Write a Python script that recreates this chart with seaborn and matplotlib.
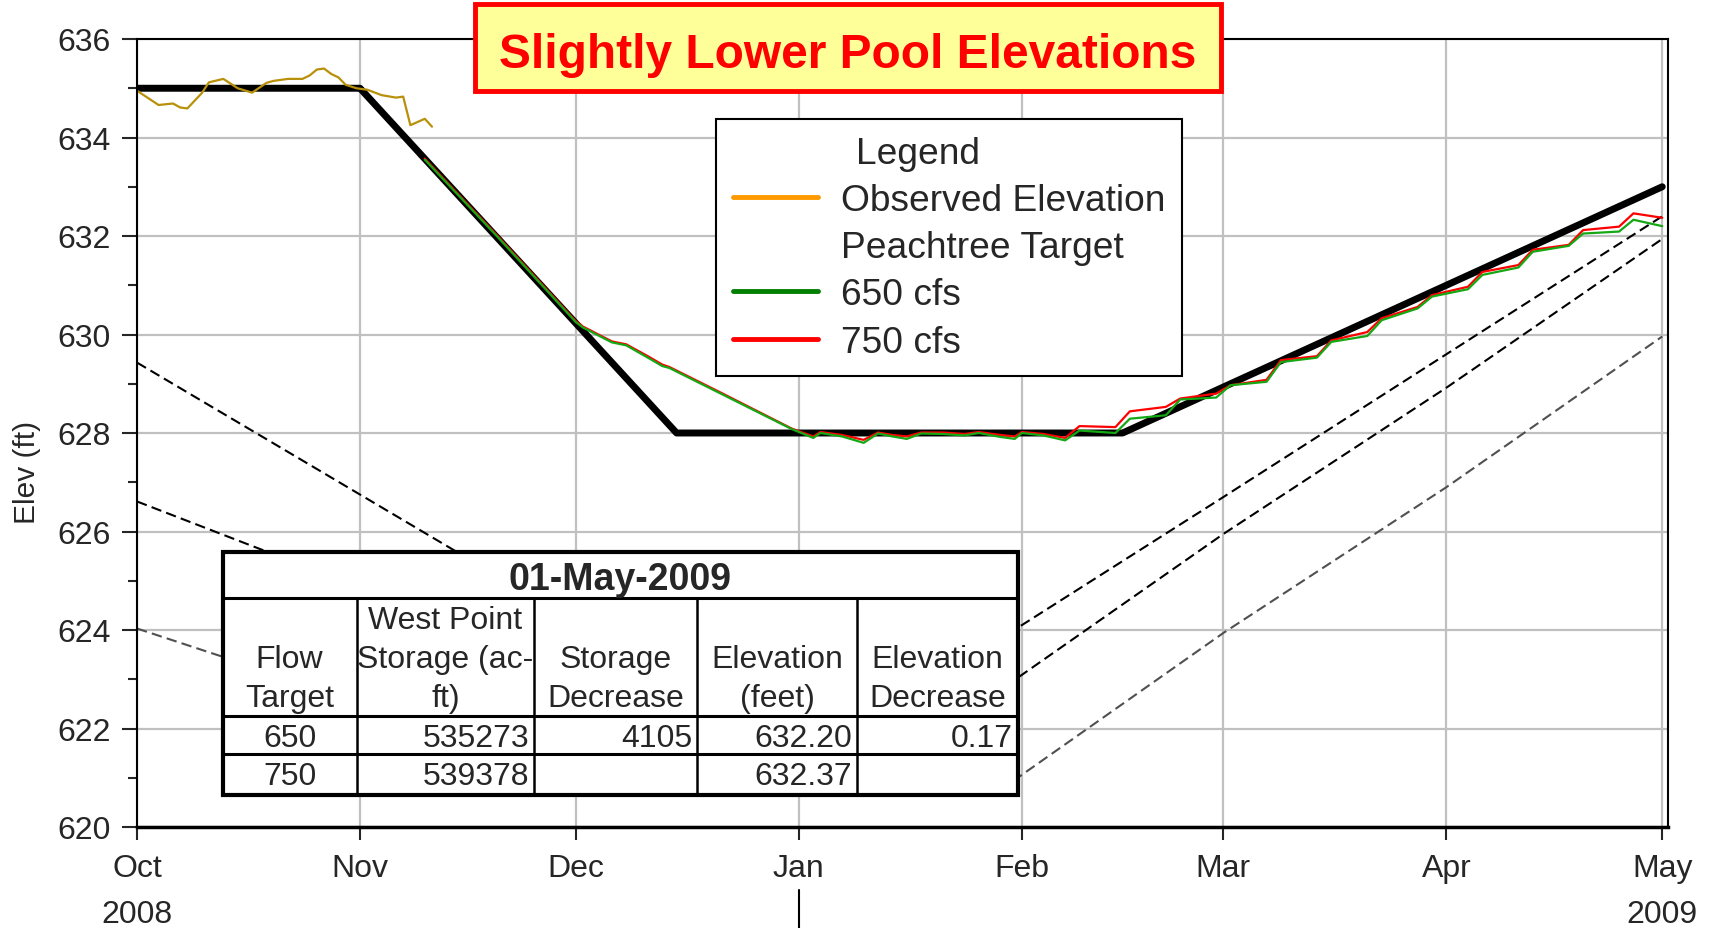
# West Point pool elevations chart
import pandas as pd
import matplotlib
matplotlib.use("Agg")
import matplotlib.pyplot as plt
import matplotlib.dates as mdates
from matplotlib.ticker import MultipleLocator
from matplotlib.lines import Line2D
from matplotlib.patches import Rectangle
import seaborn as sns

sns.set_style("white")
plt.rcParams["font.family"] = ["Liberation Sans", "DejaVu Sans"]

start = pd.Timestamp("2008-10-01")

# guide curve (days after 1-Oct-2008)
guide_days = [0, 31, 75, 137, 212]
guide_elev = [635.0, 635.0, 628.0, 628.0, 633.0]

# observed elevation
obs_days = [0, 3, 5, 6, 7, 9, 10, 12, 14, 16, 18, 19, 21, 23, 24, 25, 26, 27,
            28, 29, 30.5, 32, 34, 36, 37, 38, 40, 41]
obs_elev = [634.95, 634.66, 634.69, 634.61, 634.59, 634.90, 635.12, 635.19,
            635.00, 634.91, 635.11, 635.15, 635.19, 635.19, 635.26, 635.38,
            635.40, 635.29, 635.22, 635.07, 635.00, 634.97, 634.86, 634.81,
            634.83, 634.25, 634.38, 634.22]

# Peachtree target runs
pt_days = [40, 50, 61, 62, 66, 68, 71, 73, 74, 81, 91, 94, 95, 98, 101, 103,
           105, 107, 109, 112, 115, 117, 120, 122, 123, 126, 129, 131, 136,
           138, 143, 145, 150, 152, 157, 159, 164, 166, 171, 173, 178, 180,
           185, 187, 192, 194, 199, 201, 206, 208, 212]
pt_650 = [633.55, 632.00, 630.25, 630.14, 629.84, 629.78, 629.53, 629.36,
          629.32, 628.81, 628.08, 627.90, 628.00, 627.93, 627.80, 627.99,
          627.93, 627.88, 627.99, 627.98, 627.95, 628.00, 627.92, 627.88,
          628.00, 627.95, 627.85, 628.05, 628.00, 628.29, 628.36, 628.68,
          628.72, 628.97, 629.04, 629.44, 629.53, 629.85, 629.97, 630.29,
          630.53, 630.77, 630.92, 631.21, 631.36, 631.68, 631.80, 632.05,
          632.09, 632.33, 632.20]
pt_750 = [633.57, 632.02, 630.27, 630.16, 629.86, 629.80, 629.56, 629.39,
          629.34, 628.83, 628.09, 627.93, 628.02, 627.96, 627.86, 628.01,
          627.96, 627.93, 628.01, 628.01, 627.98, 628.02, 627.96, 627.93,
          628.02, 627.98, 627.90, 628.14, 628.12, 628.44, 628.53, 628.70,
          628.80, 628.97, 629.08, 629.48, 629.56, 629.88, 630.05, 630.33,
          630.56, 630.80, 630.97, 631.27, 631.41, 631.72, 631.82, 632.12,
          632.19, 632.46, 632.37]

# dashed zone lines (falling part left of the table, rising part right of it)
zone1_fall_days = [0, 31, 60]
zone1_fall_elev = [629.43, 626.75, 624.24]
zone1_rise_days = [110, 123, 151, 182, 212]
zone1_rise_elev = [622.90, 624.10, 626.70, 629.60, 632.40]
zone2_fall_days = [0, 17, 60]
zone2_fall_elev = [626.61, 625.65, 623.25]
zone2_rise_days = [110, 123, 151, 182, 212]
zone2_rise_elev = [621.80, 623.09, 625.95, 628.92, 631.94]
zone3_fall_days = [0, 11, 60]
zone3_fall_elev = [624.03, 623.50, 621.20]
zone3_rise_days = [120, 123, 151, 182, 212]
zone3_rise_elev = [620.76, 621.06, 623.94, 626.90, 629.96]

# summary table
table_date = "01-May-2009"
table_header = [["Flow", "Target"], ["West Point", "Storage (ac-", "ft)"],
                ["Storage", "Decrease"], ["Elevation", "(feet)"],
                ["Elevation", "Decrease"]]
flow_target = ["650", "750"]
storage = ["535273", "539378"]
storage_decrease = ["4105", ""]
elevation = ["632.20", "632.37"]
elevation_decrease = ["0.17", ""]


def to_dates(days):
    return start + pd.to_timedelta(days, unit="D")


W, H = 1710, 929
fig = plt.figure(figsize=(W / 100, H / 100), dpi=100)
ax = fig.add_axes([137 / W, 1 - 828 / H, (1668 - 137) / W, (828 - 40) / H])

dash = (0, (5, 2.5))
zones = [(zone1_fall_days, zone1_fall_elev, "black"), (zone1_rise_days, zone1_rise_elev, "black"),
         (zone2_fall_days, zone2_fall_elev, "black"), (zone2_rise_days, zone2_rise_elev, "black"),
         (zone3_fall_days, zone3_fall_elev, "#505050"), (zone3_rise_days, zone3_rise_elev, "#505050")]
for d, e, c in zones:
    sns.lineplot(x=to_dates(d), y=e, ax=ax, color=c, lw=1.5, linestyle=dash)
sns.lineplot(x=to_dates(guide_days), y=guide_elev, ax=ax, color="black", lw=5)
sns.lineplot(x=to_dates(pt_days), y=pt_750, ax=ax, color="#FF0000", lw=1.6)
sns.lineplot(x=to_dates(pt_days), y=pt_650, ax=ax, color="#14A814", lw=1.6)
sns.lineplot(x=to_dates(obs_days), y=obs_elev, ax=ax, color="#B8900A", lw=1.6)

ax.set_xlim(start, start + pd.Timedelta(days=212.8))
ax.set_ylim(620, 636)
ax.set_xlabel("")
ax.set_ylabel("")
ax.xaxis.set_major_locator(mdates.MonthLocator())
ax.xaxis.set_major_formatter(mdates.DateFormatter("%b"))
ax.set_yticks(range(620, 637, 2))
ax.yaxis.set_minor_locator(MultipleLocator(1))
ax.tick_params(axis="y", which="major", length=11, width=1.5, labelsize=23, pad=8, left=True)
ax.tick_params(axis="y", which="minor", length=6.5, width=1.5, left=True)
ax.tick_params(axis="x", which="major", length=9, width=1.5, labelsize=23, pad=9.5, bottom=True)
ax.grid(True, which="major", color="#C0C0C0", lw=1.6)
ax.set_axisbelow(True)
for side in ["left", "top", "right"]:
    ax.spines[side].set_linewidth(1.5)
    ax.spines[side].set_color("black")
ax.spines["bottom"].set_linewidth(2.5)
ax.spines["bottom"].set_color("black")

# year labels under the month labels
xt = ax.get_xaxis_transform()
ax.text(start, -0.11, "2008", transform=xt, ha="center", va="center", fontsize=23)
ax.text(pd.Timestamp("2009-05-01"), -0.11, "2009", transform=xt, ha="center", va="center", fontsize=23, clip_on=False)
ax.plot([pd.Timestamp("2009-01-01")] * 2, [-0.08, -0.13], transform=xt, color="black", lw=1.5, clip_on=False)

fig.text(27 / W, 1 - 472 / H, "Elev (ft)", rotation=90, ha="center", va="center", fontsize=21.5)

# legend
handles = [Line2D([], [], color="#FF9900", lw=3.5),
           Line2D([], [], color="none"),
           Line2D([], [], color="#007F00", lw=3.5),
           Line2D([], [], color="#FF0000", lw=3.5)]
labels = ["Observed Elevation", "Peachtree Target", "650 cfs", "750 cfs"]
leg = ax.legend(handles, labels, title="Legend      ", loc="upper left",
                bbox_to_anchor=(716 / W, 1 - 120 / H), bbox_transform=fig.transFigure,
                borderaxespad=0, fontsize=26.7, title_fontsize=26.7, frameon=True,
                fancybox=False, framealpha=1, edgecolor="black", handlelength=2.3,
                handletextpad=0.62, borderpad=0.45, labelspacing=0.33)
leg.get_frame().set_linewidth(1.5)

# title box
fig.add_artist(Rectangle((475 / W, 1 - 92 / H), 746 / W, 87 / H, transform=fig.transFigure,
                         facecolor="#FFFF99", edgecolor="#FF0000", lw=3.5))
fig.text(848 / W, 1 - 55 / H, "Slightly Lower Pool Elevations", color="#FF0000",
         fontsize=34.5, fontweight="bold", ha="center", va="center")

# table
cols = [222.5, 356.6, 534.4, 696.9, 857.2, 1017.5]
rows = [553, 598.7, 716.5, 754.7, 796]


def fx(x):
    return x / W


def fy(y):
    return 1 - y / H


fig.add_artist(Rectangle((fx(cols[0]), fy(rows[-1])), (cols[-1] - cols[0]) / W,
                         (rows[-1] - rows[0]) / H, transform=fig.transFigure,
                         facecolor="white", edgecolor="black", lw=3))
for y in rows[1:-1]:
    fig.add_artist(Line2D([fx(cols[0]), fx(cols[-1])], [fy(y), fy(y)], transform=fig.transFigure,
                          color="black", lw=2.2))
for x in cols[1:-1]:
    fig.add_artist(Line2D([fx(x), fx(x)], [fy(rows[1]), fy(rows[-1])], transform=fig.transFigure,
                          color="black", lw=1.8))

tfs = 23
fig.text(fx((cols[0] + cols[-1]) / 2), fy(580), table_date, fontsize=27, fontweight="bold",
         ha="center", va="center")
for i, lines in enumerate(table_header):
    cx = (cols[i] + cols[i + 1]) / 2
    for k, line in enumerate(reversed(lines)):
        fig.text(fx(cx), fy(699 - 39 * k), line, fontsize=tfs, ha="center", va="center")

row_y = [739.5, 777.5]
for r in range(2):
    fig.text(fx((cols[0] + cols[1]) / 2), fy(row_y[r]), flow_target[r], fontsize=tfs, ha="center", va="center")
    for c, vals in enumerate([storage, storage_decrease, elevation, elevation_decrease]):
        fig.text(fx(cols[c + 2] - 5), fy(row_y[r]), vals[r], fontsize=tfs, ha="right", va="center")

fig.savefig("out.png", dpi=100)
